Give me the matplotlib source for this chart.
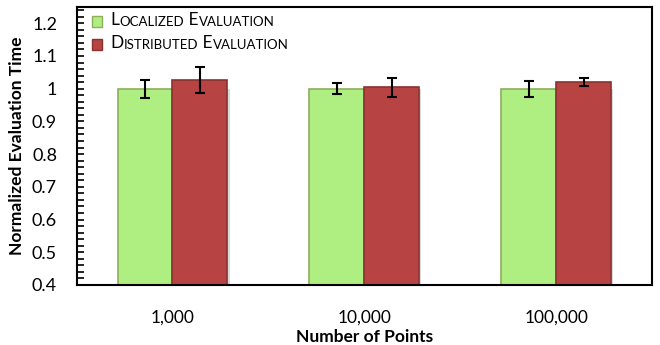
import numpy as np
import matplotlib.pyplot as plt
from matplotlib.ticker import MultipleLocator
from matplotlib.patches import Rectangle

plt.rcParams['font.family'] = ['Lato', 'DejaVu Sans']

# data
points = ["1,000", "10,000", "100,000"]
localized = [1.000, 1.000, 1.000]
localized_err = [0.028, 0.016, 0.024]
distributed = [1.027, 1.004, 1.020]
distributed_err = [0.040, 0.029, 0.013]

green = "#AFEE80"
green_edge = "#8FAE5C"
red = "#B84343"
red_edge = "#8A3232"

fig = plt.figure(figsize=(6.6, 3.45), dpi=100)
ax = fig.add_axes([0.116, 0.174, 0.872, 0.806])

x = np.arange(len(points))
w = 0.286
# faint shadow to the right of each bar
for xs in (x - w / 2, x + w / 2):
    ax.bar(xs + 0.012, [1.0] * 3, w, bottom=0, color="#d8d8d8", linewidth=0, zorder=1)
ax.bar(x - w / 2, localized, w, bottom=0, color=green, edgecolor=green_edge,
       linewidth=1.2, zorder=2)
ax.bar(x + w / 2, distributed, w, bottom=0, color=red, edgecolor=red_edge,
       linewidth=1.2, zorder=2)
ax.errorbar(x - w / 2, localized, yerr=localized_err, fmt="none", ecolor="black",
            elinewidth=1.5, capsize=3.5, capthick=1.5, zorder=3)
ax.errorbar(x + w / 2, distributed, yerr=distributed_err, fmt="none", ecolor="black",
            elinewidth=1.5, capsize=3.5, capthick=1.5, zorder=3)

ax.set_ylim(0.4, 1.25)
ax.set_xlim(-0.5, 2.5)
ax.yaxis.set_major_locator(MultipleLocator(0.1))
ax.yaxis.set_minor_locator(MultipleLocator(0.02))
ax.set_yticks([0.4, 0.5, 0.6, 0.7, 0.8, 0.9, 1.0, 1.1, 1.2])
ax.set_yticklabels(["0.4", "0.5", "0.6", "0.7", "0.8", "0.9", "1", "1.1", "1.2"])
ax.tick_params(axis="y", which="both", direction="in", length=5, width=1.2,
               labelsize=13, pad=14)
ax.set_xticks(x)
ax.set_xticklabels(points)
ax.tick_params(axis="x", length=0, labelsize=12.5, pad=18)
for s in ax.spines.values():
    s.set_linewidth(1.5)
    s.set_color("black")

ax.set_ylabel("Normalized Evaluation Time", fontsize=12.5, fontweight="bold", labelpad=5)
ax.set_xlabel("Number of Points", fontsize=12.5, fontweight="bold", labelpad=2)

# legend with small caps, built by hand
def small_caps(x0, y0, words, color, edge):
    ax.add_patch(Rectangle((x0, y0 + 0.004), 0.019, 0.040, transform=ax.transAxes,
                           facecolor=color, edgecolor=edge, linewidth=1, clip_on=False))
    prev = ax.text(x0 + 0.033, y0, "", transform=ax.transAxes, fontsize=12, va="baseline")
    first = True
    for word in words:
        big = ax.annotate(("" if first else " ") + word[0], xy=(1, 0), xycoords=prev,
                          fontsize=12.5, va="bottom", ha="left")
        prev = ax.annotate(word[1:].upper(), xy=(1, 0), xycoords=big,
                           fontsize=9.5, va="bottom", ha="left")
        first = False

small_caps(0.026, 0.925, ["Localized", "Evaluation"], green, green_edge)
small_caps(0.026, 0.840, ["Distributed", "Evaluation"], red, red_edge)

fig.savefig("out.png", dpi=100)
